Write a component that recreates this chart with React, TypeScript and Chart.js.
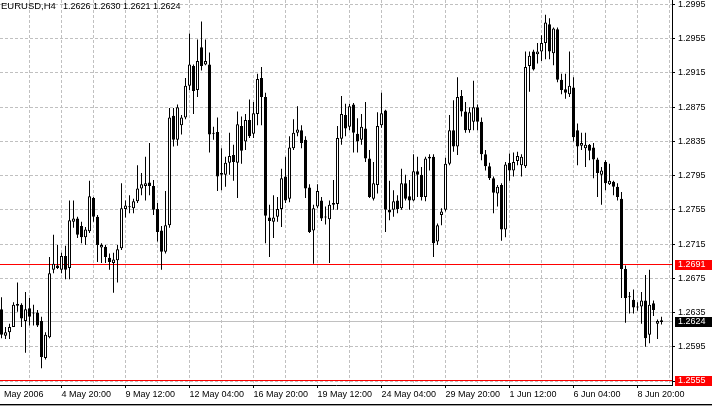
import React, { useEffect, useRef } from 'react';
import { Chart, registerables } from 'chart.js';

Chart.register(...registerables);

const SYMBOL = 'EURUSD,H4';

// H4 bars, 2 May 2006 08:00 .. 9 Jun 2006 20:00
const opens = [
  1.2639, 1.2608, 1.2612, 1.2618, 1.2645, 1.2644, 1.2625, 1.2640, 1.2635, 1.2635,
  1.2625, 1.2582, 1.2606, 1.2685, 1.2690, 1.2685, 1.2701, 1.2687, 1.2741, 1.2745,
  1.2736, 1.2723, 1.2730, 1.2769, 1.2747, 1.2711, 1.2712, 1.2699, 1.2693, 1.2696,
  1.2710, 1.2756, 1.2759, 1.2757, 1.2765, 1.2780, 1.2783, 1.2787, 1.2783, 1.2756,
  1.2731, 1.2706, 1.2737, 1.2865, 1.2837, 1.2854, 1.2863, 1.2900, 1.2923, 1.2895,
  1.2945, 1.2925, 1.2925, 1.2845, 1.2846, 1.2796, 1.2796, 1.2810, 1.2819, 1.2810,
  1.2853, 1.2835, 1.2860, 1.2844, 1.2867, 1.2909, 1.2887, 1.2746, 1.2741, 1.2747,
  1.2756, 1.2794, 1.2768, 1.2827, 1.2845, 1.2848, 1.2837, 1.2781, 1.2731, 1.2759,
  1.2766, 1.2747, 1.2744, 1.2761, 1.2762, 1.2838, 1.2866, 1.2852, 1.2878, 1.2844,
  1.2837, 1.2850, 1.2815, 1.2768, 1.2784, 1.2854, 1.2871, 1.2755, 1.2755, 1.2766,
  1.2757, 1.2786, 1.2771, 1.2766, 1.2800, 1.2796, 1.2770, 1.2815, 1.2817, 1.2718,
  1.2749, 1.2755, 1.2809, 1.2848, 1.2829, 1.2888, 1.2870, 1.2848, 1.2858, 1.2875,
  1.2858, 1.2820, 1.2806, 1.2792, 1.2774, 1.2784, 1.2732, 1.2810, 1.2801, 1.2812,
  1.2807, 1.2806, 1.2923, 1.2940, 1.2937, 1.2940, 1.2950, 1.2972, 1.2938, 1.2966,
  1.2907, 1.2896, 1.2890, 1.2898, 1.2848, 1.2830, 1.2827, 1.2831, 1.2828, 1.2814,
  1.2796, 1.2811, 1.2785, 1.2788, 1.2782, 1.2768, 1.2686, 1.2654, 1.2650, 1.2642,
  1.2642, 1.2649, 1.2609, 1.2646, 1.2622, 1.2626,
];
const highs = [
  1.2653, 1.2618, 1.2622, 1.2647, 1.2670, 1.2646, 1.2659, 1.2652, 1.2644, 1.2638,
  1.2630, 1.2612, 1.2700, 1.2726, 1.2714, 1.2705, 1.2713, 1.2766, 1.2766, 1.2747,
  1.2741, 1.2735, 1.2789, 1.2770, 1.2749, 1.2716, 1.2714, 1.2704, 1.2705, 1.2714,
  1.2786, 1.2766, 1.2772, 1.2768, 1.2807, 1.2798, 1.2817, 1.2833, 1.2790, 1.2763,
  1.2736, 1.2777, 1.2874, 1.2874, 1.2878, 1.2866, 1.2909, 1.2961, 1.2925, 1.2954,
  1.2975, 1.2954, 1.2939, 1.2852, 1.2863, 1.2827, 1.2817, 1.2845, 1.2831, 1.2870,
  1.2864, 1.2867, 1.2884, 1.2881, 1.2914, 1.2922, 1.2892, 1.2761, 1.2772, 1.2770,
  1.2803, 1.2817, 1.2841, 1.2861, 1.2876, 1.2854, 1.2841, 1.2785, 1.2761, 1.2785,
  1.2770, 1.2759, 1.2766, 1.2790, 1.2853, 1.2888, 1.2879, 1.2879, 1.2880, 1.2862,
  1.2867, 1.2881, 1.2825, 1.2811, 1.2869, 1.2892, 1.2872, 1.2789, 1.2778, 1.2772,
  1.2803, 1.2796, 1.2790, 1.2820, 1.2817, 1.2805, 1.2817, 1.2820, 1.2820, 1.2739,
  1.2757, 1.2816, 1.2866, 1.2883, 1.2910, 1.2895, 1.2881, 1.2875, 1.2906, 1.2878,
  1.2863, 1.2825, 1.2810, 1.2794, 1.2784, 1.2786, 1.2811, 1.2821, 1.2822, 1.2823,
  1.2820, 1.2940, 1.2940, 1.2942, 1.2950, 1.2959, 1.2983, 1.2979, 1.2968, 1.2968,
  1.2914, 1.2914, 1.2940, 1.2910, 1.2856, 1.2845, 1.2845, 1.2832, 1.2833, 1.2816,
  1.2805, 1.2813, 1.2809, 1.2789, 1.2786, 1.2776, 1.2690, 1.2659, 1.2662, 1.2647,
  1.2659, 1.2679, 1.2685, 1.2649, 1.2627, 1.2630,
];
const lows = [
  1.2605, 1.2604, 1.2604, 1.2618, 1.2636, 1.2618, 1.2588, 1.2620, 1.2620, 1.2618,
  1.2570, 1.2580, 1.2605, 1.2681, 1.2686, 1.2681, 1.2674, 1.2674, 1.2734, 1.2722,
  1.2716, 1.2714, 1.2728, 1.2741, 1.2694, 1.2693, 1.2693, 1.2685, 1.2658, 1.2670,
  1.2708, 1.2746, 1.2751, 1.2751, 1.2763, 1.2772, 1.2766, 1.2772, 1.2749, 1.2718,
  1.2685, 1.2704, 1.2734, 1.2829, 1.2830, 1.2843, 1.2861, 1.2895, 1.2867, 1.2887,
  1.2918, 1.2924, 1.2822, 1.2837, 1.2777, 1.2778, 1.2782, 1.2796, 1.2789, 1.2769,
  1.2809, 1.2825, 1.2839, 1.2839, 1.2854, 1.2854, 1.2716, 1.2700, 1.2722, 1.2741,
  1.2735, 1.2763, 1.2764, 1.2825, 1.2841, 1.2827, 1.2769, 1.2728, 1.2692, 1.2757,
  1.2742, 1.2738, 1.2693, 1.2755, 1.2755, 1.2831, 1.2841, 1.2848, 1.2822, 1.2822,
  1.2831, 1.2811, 1.2769, 1.2766, 1.2774, 1.2851, 1.2729, 1.2743, 1.2747, 1.2751,
  1.2755, 1.2766, 1.2755, 1.2765, 1.2770, 1.2766, 1.2765, 1.2801, 1.2700, 1.2714,
  1.2737, 1.2753, 1.2807, 1.2823, 1.2819, 1.2864, 1.2845, 1.2845, 1.2848, 1.2848,
  1.2813, 1.2801, 1.2790, 1.2751, 1.2759, 1.2719, 1.2723, 1.2789, 1.2794, 1.2807,
  1.2794, 1.2804, 1.2893, 1.2918, 1.2926, 1.2929, 1.2931, 1.2931, 1.2924, 1.2904,
  1.2890, 1.2885, 1.2887, 1.2835, 1.2807, 1.2825, 1.2805, 1.2813, 1.2792, 1.2770,
  1.2761, 1.2778, 1.2784, 1.2772, 1.2766, 1.2652, 1.2623, 1.2634, 1.2634, 1.2637,
  1.2622, 1.2595, 1.2599, 1.2631, 1.2604, 1.2621,
];
const closes = [
  1.2609, 1.2612, 1.2618, 1.2644, 1.2643, 1.2628, 1.2639, 1.2630, 1.2634, 1.2620,
  1.2583, 1.2609, 1.2681, 1.2692, 1.2687, 1.2701, 1.2685, 1.2743, 1.2745, 1.2726,
  1.2723, 1.2732, 1.2771, 1.2747, 1.2714, 1.2714, 1.2700, 1.2694, 1.2697, 1.2709,
  1.2757, 1.2760, 1.2758, 1.2765, 1.2780, 1.2785, 1.2786, 1.2783, 1.2755, 1.2729,
  1.2706, 1.2737, 1.2863, 1.2837, 1.2875, 1.2863, 1.2900, 1.2925, 1.2894, 1.2929,
  1.2923, 1.2929, 1.2843, 1.2844, 1.2794, 1.2798, 1.2810, 1.2818, 1.2811, 1.2855,
  1.2824, 1.2860, 1.2841, 1.2868, 1.2908, 1.2887, 1.2748, 1.2742, 1.2746, 1.2756,
  1.2792, 1.2766, 1.2828, 1.2845, 1.2849, 1.2833, 1.2780, 1.2729, 1.2757, 1.2777,
  1.2745, 1.2746, 1.2761, 1.2763, 1.2839, 1.2867, 1.2850, 1.2876, 1.2845, 1.2835,
  1.2852, 1.2815, 1.2770, 1.2786, 1.2853, 1.2868, 1.2755, 1.2752, 1.2765, 1.2756,
  1.2786, 1.2768, 1.2766, 1.2800, 1.2796, 1.2770, 1.2815, 1.2817, 1.2716, 1.2737,
  1.2753, 1.2809, 1.2848, 1.2829, 1.2887, 1.2870, 1.2848, 1.2869, 1.2875, 1.2858,
  1.2820, 1.2806, 1.2792, 1.2775, 1.2782, 1.2732, 1.2808, 1.2801, 1.2811, 1.2818,
  1.2817, 1.2922, 1.2935, 1.2919, 1.2940, 1.2950, 1.2974, 1.2940, 1.2967, 1.2907,
  1.2895, 1.2892, 1.2900, 1.2840, 1.2829, 1.2833, 1.2831, 1.2824, 1.2814, 1.2798,
  1.2801, 1.2786, 1.2789, 1.2782, 1.2770, 1.2686, 1.2652, 1.2653, 1.2641, 1.2641,
  1.2649, 1.2605, 1.2644, 1.2638, 1.2625, 1.2624,
];

// time axis: bar index of each labelled tick and its text
const timeTickBars = [0.625, 15, 31, 47, 63, 79, 95, 111, 127, 143, 159];
const timeTickLabels = [
  'May 2006', '4 May 20:00', '9 May 12:00', '12 May 04:00', '16 May 20:00',
  '19 May 12:00', '24 May 04:00', '29 May 20:00', '1 Jun 12:00', '6 Jun 04:00', '8 Jun 20:00',
];
const gridBars = [7, 15, 23, 31, 39, 47, 55, 63, 71, 79, 87, 95, 103, 111, 119, 127, 135, 143, 151, 159, 167];

const priceTicks = [1.2555, 1.2595, 1.2635, 1.2675, 1.2715, 1.2755, 1.2795, 1.2835, 1.2875, 1.2915, 1.2955, 1.2995];
const levelLines = [1.2691, 1.2555];
const bidPrice = 1.2624;

const X_MIN = -0.375;
const X_MAX = 167.625;
const Y_MIN = 1.255033;
const Y_MAX = 1.300026;

const FONT_FAMILY = '"Liberation Sans", Arial, sans-serif';

const overlayPlugin = {
  id: 'mtOverlay',
  beforeDatasetsDraw(chart: any) {
    const { ctx, chartArea, scales } = chart;
    const ys = scales.y;
    const hline = (v: number, color: string) => {
      const p = Math.round(ys.getPixelForValue(v)) - 0.5;
      ctx.save();
      ctx.strokeStyle = color;
      ctx.lineWidth = 1;
      ctx.beginPath();
      ctx.moveTo(chartArea.left, p);
      ctx.lineTo(chartArea.right, p);
      ctx.stroke();
      ctx.restore();
    };
    hline(bidPrice, '#C0C0C0');
    levelLines.forEach((v) => hline(v, '#FF0000'));
  },
  afterDraw(chart: any) {
    const { ctx, chartArea, scales, width } = chart;
    const ys = scales.y;
    const box = (v: number, bg: string) => {
      const p = Math.round(ys.getPixelForValue(v)) - 0.5;
      ctx.save();
      ctx.fillStyle = bg;
      ctx.fillRect(chartArea.right + 3, Math.round(p) - 5, width - chartArea.right - 3, 10);
      ctx.fillStyle = '#FFFFFF';
      ctx.font = `9px ${FONT_FAMILY}`;
      ctx.textBaseline = 'middle';
      ctx.textAlign = 'left';
      ctx.fillText(v.toFixed(4), chartArea.right + 6, p + 0.5);
      ctx.restore();
    };
    levelLines.forEach((v) => box(v, '#FF0000'));
    box(bidPrice, '#000000');

    // header
    const n = closes.length - 1;
    ctx.save();
    ctx.fillStyle = '#000';
    ctx.font = `9.5px ${FONT_FAMILY}`;
    ctx.textBaseline = 'alphabetic';
    ctx.textAlign = 'left';
    ctx.fillText(SYMBOL, 1, 9);
    ctx.font = `9px ${FONT_FAMILY}`;
    ctx.fillText(
      [opens[n], highs[n], lows[n], closes[n]].map((v) => v.toFixed(4)).join(' '),
      63,
      9
    );
    // bottom strip
    ctx.fillStyle = '#000';
    ctx.fillRect(0, 404, width, 1);
    ctx.fillStyle = '#A0A0A0';
    ctx.fillRect(0, 405, width, 1);
    ctx.restore();
  },
};

export default function App() {
  const ref = useRef<HTMLCanvasElement | null>(null);

  useEffect(() => {
    if (!ref.current) return;
    const idx = opens.map((_, i) => i);
    const bodies = idx.map((i) => ({ x: i, y: [opens[i], closes[i]] }));
    const wicks = idx.map((i) => ({ x: i, y: [lows[i], highs[i]] }));
    const bodyColors = idx.map((i) => (closes[i] >= opens[i] ? '#FFFFFF' : '#000000'));
    const xTickValues = Array.from(new Set([...timeTickBars, ...gridBars])).sort((a, b) => a - b);
    const font = { family: FONT_FAMILY, size: 9 };

    const chart = new Chart(ref.current, {
      type: 'bar',
      data: {
        datasets: [
          {
            data: bodies as any,
            backgroundColor: bodyColors,
            borderColor: '#000000',
            borderWidth: 1,
            borderSkipped: false,
            grouped: false,
            maxBarThickness: 3,
            barPercentage: 1,
            categoryPercentage: 1,
            minBarLength: 1,
            inflateAmount: 0,
            order: 0,
          } as any,
          {
            data: wicks as any,
            backgroundColor: '#000000',
            borderWidth: 0,
            grouped: false,
            maxBarThickness: 1,
            barPercentage: 1,
            categoryPercentage: 1,
            inflateAmount: 0,
            order: 1,
          } as any,
        ],
      },
      options: {
        responsive: false,
        animation: false,
        devicePixelRatio: 1,
        events: [],
        layout: { padding: 0, autoPadding: false } as any,
        plugins: {
          legend: { display: false },
          tooltip: { enabled: false },
          title: { display: false },
        },
        scales: {
          x: {
            type: 'linear',
            min: X_MIN,
            max: X_MAX,
            offset: false,
            afterBuildTicks: (s: any) => {
              s.ticks = xTickValues.map((v) => ({ value: v }));
            },
            afterFit: (s: any) => {
              s.height = 22;
              s.paddingLeft = 0;
              s.paddingRight = 0;
            },
            ticks: {
              autoSkip: false,
              maxRotation: 0,
              minRotation: 0,
              align: 'start',
              padding: 1,
              color: '#000000',
              font,
              callback: (v: any) => {
                const k = timeTickBars.indexOf(Number(v));
                return k >= 0 ? timeTickLabels[k] : '';
              },
            },
            grid: {
              offset: false,
              lineWidth: 1,
              tickLength: 3,
              color: (c: any) => (c.tick && c.tick.value < 1 ? 'rgba(0,0,0,0)' : '#C0C0C0'),
              tickColor: (c: any) =>
                c.tick && c.tick.value >= 1 && timeTickBars.indexOf(c.tick.value) >= 0 ? '#000000' : 'rgba(0,0,0,0)',
            },
            border: { display: true, color: '#000000', width: 1, dash: [3, 2] },
          } as any,
          y: {
            type: 'linear',
            position: 'right',
            min: Y_MIN,
            max: Y_MAX,
            afterBuildTicks: (s: any) => {
              s.ticks = priceTicks.map((v) => ({ value: v }));
            },
            afterFit: (s: any) => {
              s.width = 40;
              s.paddingTop = 0;
              s.paddingBottom = 0;
            },
            ticks: {
              autoSkip: false,
              crossAlign: 'near',
              padding: 3,
              color: '#000000',
              font,
              callback: (v: any) => (Number(v) < 1.2575 ? '' : Number(v).toFixed(4)),
            },
            grid: {
              lineWidth: 1,
              tickLength: 3,
              color: '#C0C0C0',
              tickColor: '#000000',
            },
            border: { display: true, color: '#000000', width: 1, dash: [3, 2] },
          } as any,
        },
      },
      plugins: [overlayPlugin],
    });
    return () => chart.destroy();
  }, []);

  return (
    <div style={{ position: 'absolute', left: 0, top: 0, width: 712, height: 407, background: '#FFFFFF' }}>
      <canvas ref={ref} width={712} height={407} style={{ display: 'block' }} />
    </div>
  );
}
